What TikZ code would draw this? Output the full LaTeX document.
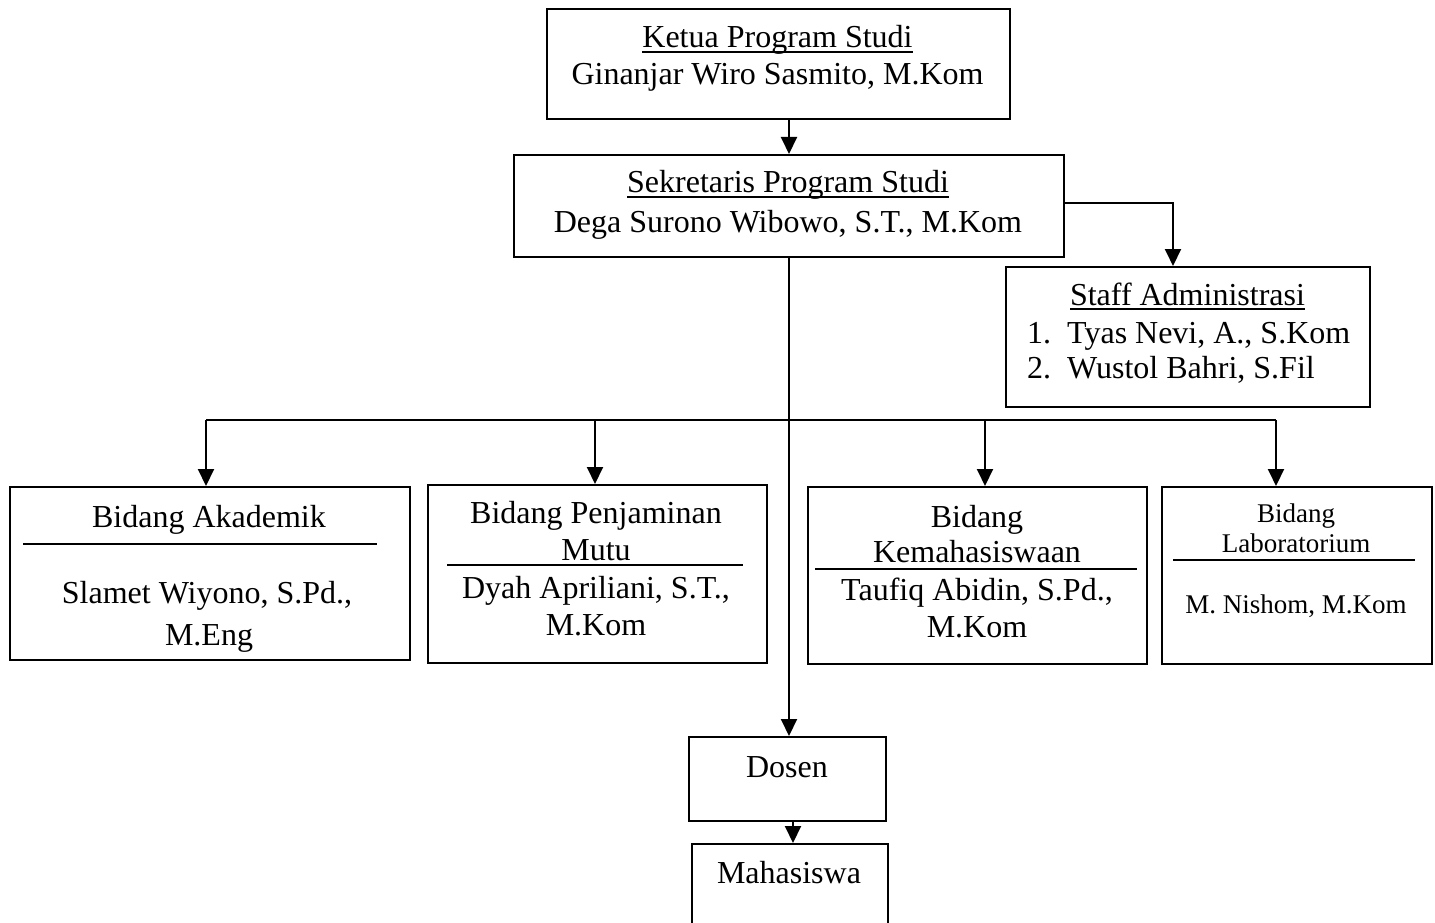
\documentclass[tikz,border=0pt]{standalone}
\usepackage{fontspec}
\setmainfont{Liberation Serif}
\usetikzlibrary{arrows.meta}
\newcommand\ulx[1]{{\setbox0\hbox{#1}\rlap{\rule[-5pt]{\wd0}{1.6pt}}\box0}}
\begin{document}
\begin{tikzpicture}[x=1pt,y=-1pt,
  box/.style={draw,line width=2pt,inner sep=0pt,anchor=north west},
  txt/.style={anchor=base,inner sep=0pt,font=\fontsize{32}{37}\selectfont},
  stxt/.style={anchor=base,inner sep=0pt,font=\fontsize{27}{31}\selectfont},
  sepline/.style={line width=2pt},
  conn/.style={line width=2pt},
  arr/.style={line width=2pt,-{Triangle[width=16pt,length=17pt]}}]
\clip (0,0) rectangle (1435,923);
\fill[white] (0,0) rectangle (1435,923);
% boxes
\node[box,minimum width=463pt,minimum height=110pt] (ketua) at (546,8) {};
\node[box,minimum width=550pt,minimum height=102pt] (sek) at (513,154) {};
\node[box,minimum width=364pt,minimum height=140pt] (staff) at (1005,266) {};
\node[box,minimum width=400pt,minimum height=173pt] (akad) at (9,486) {};
\node[box,minimum width=339pt,minimum height=178pt] (penj) at (427,484) {};
\node[box,minimum width=339pt,minimum height=177pt] (kema) at (807,486) {};
\node[box,minimum width=270pt,minimum height=177pt] (lab) at (1161,486) {};
\node[box,minimum width=197pt,minimum height=84pt] (dosen) at (688,736) {};
\node[box,minimum width=196pt,minimum height=130pt] (maha) at (691,843) {};
% texts
\node[txt] (ketuaA) at (777.5,48) {\ulx{Ketua Program Studi}};
\node[txt] (ketuaB) at (777.5,85) {Ginanjar Wiro Sasmito, M.Kom};
\node[txt] (sekA) at (788,193) {\ulx{Sekretaris Program Studi}};
\node[txt] (sekB) at (788,232) {Dega Surono Wibowo, S.T., M.Kom};
\node[txt] (staffA) at (1187.5,305) {\ulx{Staff Administrasi}};
\node[txt,anchor=base west] (staffB) at (1027,343) {\makebox[40pt][l]{1.}Tyas Nevi, A., S.Kom};
\node[txt,anchor=base west] (staffC) at (1027,378) {\makebox[40pt][l]{2.}Wustol Bahri, S.Fil};
\node[txt] (akadA) at (209,527) {Bidang Akademik};
\node[txt] (akadB) at (207,603) {Slamet Wiyono, S.Pd.,};
\node[txt] (akadC) at (209,645) {M.Eng};
\node[txt] (penjA) at (596,523) {Bidang Penjaminan};
\node[txt] (penjB) at (596,560) {Mutu};
\node[txt] (penjC) at (596,598) {Dyah Apriliani, S.T.,};
\node[txt] (penjD) at (596,635) {M.Kom};
\node[txt] (kemaA) at (977,527) {Bidang};
\node[txt] (kemaB) at (977,562) {Kemahasiswaan};
\node[txt] (kemaC) at (977,600) {Taufiq Abidin, S.Pd.,};
\node[txt] (kemaD) at (977,637) {M.Kom};
\node[stxt] (labA) at (1296,522) {Bidang};
\node[stxt] (labB) at (1296,552) {Laboratorium};
\node[stxt] (labC) at (1296,613) {M. Nishom, M.Kom};
\node[txt] (dosenA) at (787,777) {Dosen};
\node[txt] (mahaA) at (789,883) {Mahasiswa};
% separator lines inside boxes
\draw[sepline] (23,544) -- (377,544);
\draw[sepline] (447,565) -- (743,565);
\draw[sepline] (815,569) -- (1137,569);
\draw[sepline] (1173,560) -- (1415,560);
% helper coordinates
\coordinate (trunk) at (789,0);
\coordinate (sa) at (1173,203);
\coordinate (b1) at (206,420);
\coordinate (b2) at (595,420);
\coordinate (b3) at (985,420);
\coordinate (b4) at (1276,420);
\coordinate (dm) at (793,0);
% connectors
\draw[arr] (ketua.south -| trunk) -- (sek.north -| trunk);
\draw[arr] (sek.east |- sa) -- (sa) -- (staff.north -| sa);
\draw[arr] (sek.south -| trunk) -- (dosen.north -| trunk);
\draw[conn] (b1) -- (b4);
\draw[arr] (b1) -- (akad.north -| b1);
\draw[arr] (b2) -- (penj.north -| b2);
\draw[arr] (b3) -- (kema.north -| b3);
\draw[arr] (b4) -- (lab.north -| b4);
\draw[arr] (dosen.south -| dm) -- (maha.north -| dm);
\end{tikzpicture}
\end{document}
